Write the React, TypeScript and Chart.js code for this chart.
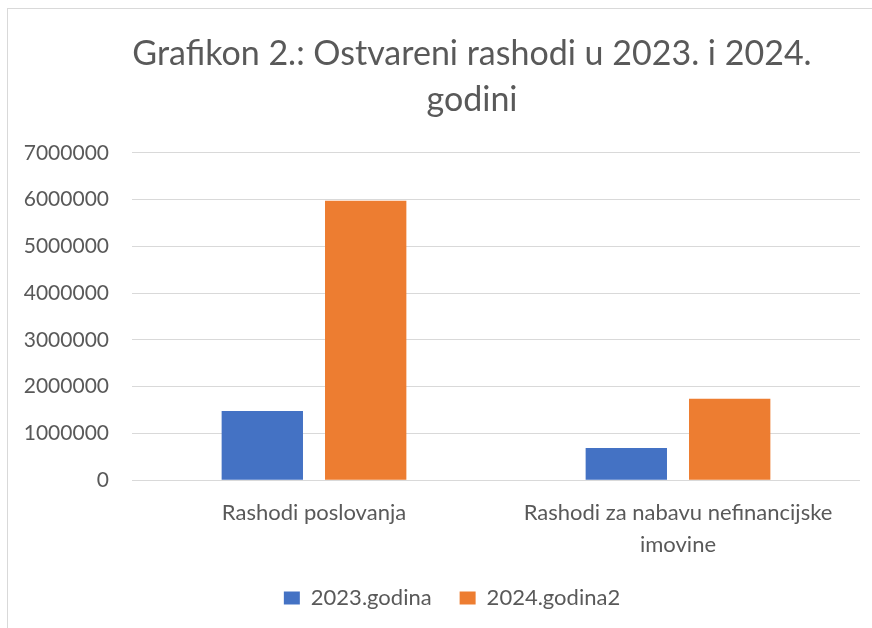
import React, { useEffect, useRef } from "react";
import { Chart, registerables } from "chart.js";

Chart.register(...registerables);

const categories: (string | string[])[] = [
  "Rashodi poslovanja",
  ["Rashodi za nabavu nefinancijske", "imovine"],
];
const series2023 = [1478000, 690000];
const series2024 = [5975000, 1740000];
const seriesNames = ["2023.godina", "2024.godina2"];
const titleLines = ["Grafikon 2.: Ostvareni rashodi u 2023. i 2024.", "godini"];

const FONT = "Lato, 'Open Sans', sans-serif";
const TEXT = "#595959";

const shiftBlocks = {
  id: "shiftBlocks",
  afterLayout(c: any) {
    const t = c.titleBlock;
    if (t) {
      t.left += 42;
      t.right += 42;
    }
    const l = c.legend;
    if (l) {
      l.left += 22;
      l.right += 22;
    }
  },
};

export default function App() {
  const ref = useRef<HTMLCanvasElement>(null);
  useEffect(() => {
    document.body.style.overflow = "hidden";
    const chart = new Chart(ref.current!, {
      type: "bar",
      data: {
        labels: categories,
        datasets: [
          {
            label: seriesNames[0],
            data: series2023,
            backgroundColor: "#4472C4",
            categoryPercentage: 0.568,
            barPercentage: 0.787,
          },
          {
            label: seriesNames[1],
            data: series2024,
            backgroundColor: "#ED7D31",
            categoryPercentage: 0.568,
            barPercentage: 0.787,
          },
        ],
      },
      plugins: [shiftBlocks],
      options: {
        animation: false,
        responsive: true,
        maintainAspectRatio: false,
        layout: { padding: { top: 31, right: 12, bottom: 9, left: 0 } },
        plugins: {
          title: {
            display: true,
            text: titleLines,
            color: TEXT,
            font: { family: FONT, size: 34, weight: "normal", lineHeight: 1.35 },
            padding: { top: 0, bottom: 30 },
          },
          legend: {
            position: "bottom",
            labels: {
              color: TEXT,
              font: { family: FONT, size: 22 },
              boxWidth: 16,
              boxHeight: 13,
              padding: 28,
            },
          },
          tooltip: { enabled: false },
        },
        scales: {
          x: {
            afterFit: (s: any) => {
              s.height -= 19;
            },
            grid: { display: false, drawTicks: false },
            border: { display: false },
            ticks: {
              color: TEXT,
              font: { family: FONT, size: 22, lineHeight: 1.45 },
              padding: 17,
              maxRotation: 0,
              autoSkip: false,
            },
          },
          y: {
            min: 0,
            max: 7000000,
            afterFit: (s: any) => {
              s.width = 132;
            },
            grid: { color: "#d9d9d9", lineWidth: 1, drawTicks: false },
            border: { display: false },
            ticks: {
              stepSize: 1000000,
              callback: (v: any) => String(v),
              color: TEXT,
              font: { family: FONT, size: 21 },
              padding: 23,
            },
          },
        },
      },
    });
    return () => chart.destroy();
  }, []);
  return (
    <>
      <div
        style={{
          position: "fixed",
          left: 7,
          top: 8,
          width: 900,
          height: 700,
          border: "1px solid #d9d9d9",
          boxSizing: "border-box",
        }}
      />
      <div style={{ position: "fixed", left: 0, top: 0, width: 872, height: 628 }}>
        <canvas ref={ref} />
      </div>
    </>
  );
}
